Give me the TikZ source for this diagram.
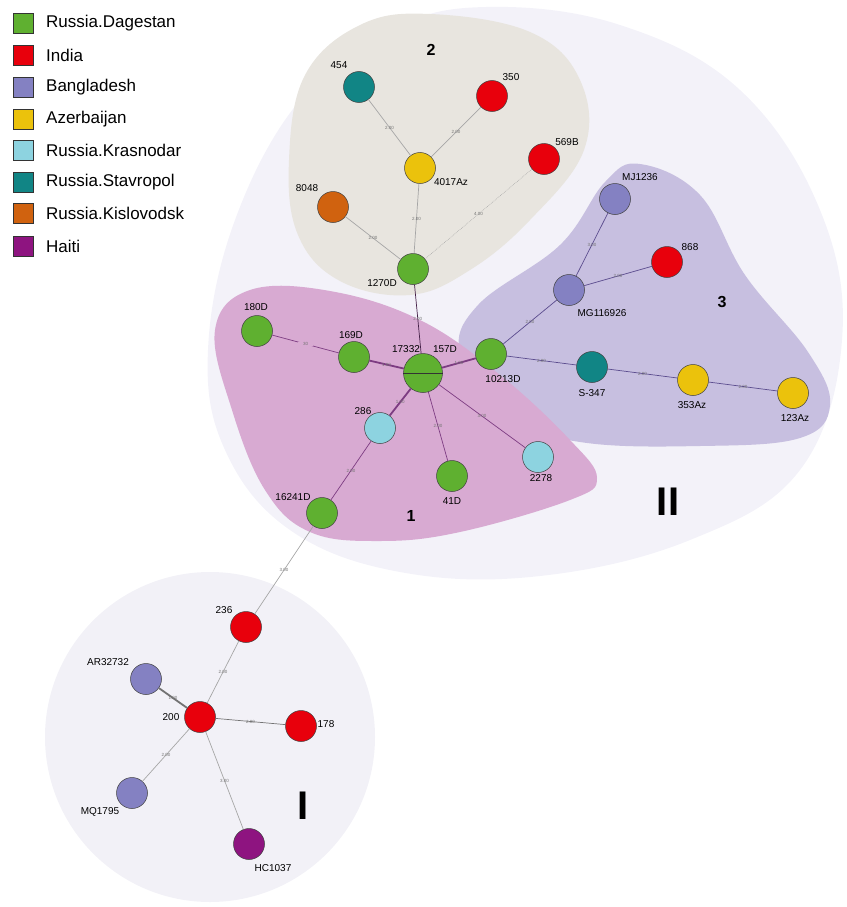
\documentclass[tikz,border=0pt]{standalone}
\usepackage{fontspec}
\setmainfont{Liberation Sans}
\definecolor{dagestan}{HTML}{5FB030}
\definecolor{india}{HTML}{E8000C}
\definecolor{bangladesh}{HTML}{8481C2}
\definecolor{azerbaijan}{HTML}{EBC20C}
\definecolor{krasnodar}{HTML}{8DD3E0}
\definecolor{stavropol}{HTML}{118585}
\definecolor{kislovodsk}{HTML}{D0620F}
\definecolor{haiti}{HTML}{8E1480}
\definecolor{groupI}{HTML}{F2F1F7}
\definecolor{groupII}{HTML}{F3F2F9}
\definecolor{clusterA}{HTML}{D8AAD2}
\definecolor{clusterB}{HTML}{E8E5DF}
\definecolor{clusterC}{HTML}{C7BFE0}
\definecolor{edgeA}{HTML}{7D3C82}
\definecolor{edgeC}{HTML}{5B4C8E}
\tikzset{
	hap/.style={circle, draw=black!75, line width=0.5pt, minimum size=31pt, inner sep=0pt},
	lab/.style={font=\fontsize{10}{10}\selectfont, inner sep=0pt},
	elab/.style={font=\fontsize{4.5}{4.5}\selectfont, text=black!55, inner sep=0.5pt, midway},
	egray/.style={draw=black!35, line width=0.7pt},
	epurple/.style={draw=edgeA, line width=0.7pt},
	eviolet/.style={draw=edgeC, line width=0.7pt},
	ethick/.style={line width=1.8pt},
	regnum/.style={font=\fontsize{16}{16}\selectfont\bfseries},
	grpnum/.style={font=\fontsize{40}{40}\selectfont\bfseries},
	legbox/.style={draw=black!80, line width=0.8pt, minimum size=20pt, inner sep=0pt},
	legtext/.style={anchor=west, inner sep=0pt, font=\fontsize{17}{17}\selectfont}
}
\def\hap[#1](#2)(#3)(#4)#5{\node[hap, fill=#1] (#2) at (#3) {}; \node[lab, shift={(#4)}] (#2t) at (#3) {#5};}
\def\legitem[#1](#2)(#3)#4{\node[legbox, fill=#1] (#2) at (23,#3) {}; \node[legtext] (#2t) at (46,#3) {#4};}

\begin{document}
\begin{tikzpicture}[x=1pt, y=-1pt]
			%%%%% START %%%%%
			\useasboundingbox (0,0) rectangle (846,907);
			
			% groups and clusters
			\fill[groupII] plot[smooth cycle, tension=0.65] coordinates {(486,7) (620,25) (740,90) (820,210) (842,340) (800,470) (690,540) (540,576) (400,572) (290,530) (225,450) (208,350) (235,220) (300,100) (390,30)};
			\fill[groupI] (210,737) circle [radius=165pt];
			\fill[clusterB] plot[smooth cycle, tension=0.65] coordinates {(430,14) (530,32) (580,80) (584,150) (530,220) (470,270) (410,295) (340,281) (298,235) (289,160) (305,75) (360,25)};
			\fill[clusterC] plot[smooth cycle, tension=0.65] coordinates {(640,164) (700,195) (745,275) (808,352) (830,405) (800,438) (700,446) (580,442) (500,415) (460,355) (478,305) (560,245) (605,182)};
			\fill[clusterA] plot[smooth cycle, tension=0.65] coordinates {(250,290) (330,291) (420,320) (500,375) (570,440) (597,478) (570,500) (460,532) (380,541) (310,532) (265,490) (232,410) (215,330)};
			
			\node[regnum] (c2) at (431,50) {2};
			\node[regnum] (c3) at (722,302) {3};
			\node[regnum] (c1) at (411,516) {1};
			\node[grpnum] (gII) at (668,502) {II};
			\node[grpnum] (gI) at (303,806) {I};
			
			% legend
			\legitem[dagestan](k1)(23){Russia.Dagestan}
			\legitem[india](k2)(55){India}
			\legitem[bangladesh](k3)(87){Bangladesh}
			\legitem[azerbaijan](k4)(119){Azerbaijan}
			\legitem[krasnodar](k5)(150){Russia.Krasnodar}
			\legitem[stavropol](k6)(182){Russia.Stavropol}
			\legitem[kislovodsk](k7)(213){Russia.Kislovodsk}
			\legitem[haiti](k8)(246){Haiti}
			
			% cluster 2
			\hap[stavropol](n454)(359,87)(-20,-22){454}
			\hap[india](n350)(492,96)(19,-19){350}
			\hap[india](n569B)(544,159)(23,-17){569B}
			\hap[azerbaijan](n4017Az)(420,168)(31,14){4017Az}
			\hap[kislovodsk](n8048)(333,207)(-26,-19){8048}
			\hap[dagestan](n1270D)(413,269)(-31,14){1270D}
			
			% cluster 1
			\node[hap, fill=dagestan, minimum size=39pt] (n17332) at (423,373) {};
			\draw[black!80, line width=0.6pt] (n17332.west) -- (n17332.east);
			\node[lab] (n17332t) at (406,349) {17332};
			\node[lab] (n157Dt) at (445,349) {157D};
			\hap[dagestan](n180D)(257,331)(-1,-24){180D}
			\hap[dagestan](n169D)(354,357)(-3,-22){169D}
			\hap[krasnodar](n286)(380,428)(-17,-17){286}
			\hap[dagestan](n41D)(452,476)(0,25){41D}
			\hap[krasnodar](n2278)(538,457)(3,21){2278}
			\hap[dagestan](n16241D)(322,513)(-29,-16){16241D}
			\hap[dagestan](n10213D)(491,354)(12,25){10213D}
			
			% cluster 3
			\hap[bangladesh](nMJ1236)(615,199)(25,-22){MJ1236}
			\hap[india](n868)(667,262)(23,-15){868}
			\hap[bangladesh](nMG116926)(569,290)(33,23){MG116926}
			\hap[stavropol](nS347)(592,367)(0,26){S-347}
			\hap[azerbaijan](n353Az)(693,380)(-1,25){353Az}
			\hap[azerbaijan](n123Az)(793,393)(2,25){123Az}
			
			% group I
			\hap[india](n236)(246,627)(-22,-17){236}
			\hap[bangladesh](nAR32732)(146,679)(-38,-17){AR32732}
			\hap[india](n200)(200,717)(-29,0){200}
			\hap[india](n178)(301,726)(25,-2){178}
			\hap[bangladesh](nMQ1795)(132,793)(-32,19){MQ1795}
			\hap[haiti](nHC1037)(249,844)(24,24){HC1037}
			
			% links
			\draw[egray] (n454) -- node[elab] {2.00} (n4017Az);
			\draw[egray] (n350) -- node[elab] {2.00} (n4017Az);
			\draw[egray] (n4017Az) -- node[elab] {2.00} (n1270D);
			\draw[egray] (n8048) -- node[elab] {2.00} (n1270D);
			\draw[egray, densely dotted, line width=0.5pt] (n569B) -- node[elab] {4.00} (n1270D);
			\draw[draw=black!45!edgeA, line width=0.7pt] (n1270D) -- node[elab] {2.00} (n17332);
			
			\draw[epurple] (n180D) -- node[elab, fill=clusterA, inner xsep=5pt] {30} (n169D);
			\draw[epurple, ethick] (n169D) -- node[elab] {1.00} (n17332);
			\draw[epurple, ethick] (n17332) -- node[elab] {1.00} (n10213D);
			\draw[epurple, ethick] (n17332) -- node[elab] {1.00} (n286);
			\draw[epurple] (n17332) -- node[elab] {2.00} (n41D);
			\draw[epurple] (n17332) -- node[elab] {3.00} (n2278);
			\draw[epurple] (n286) -- node[elab] {2.00} (n16241D);
			
			\draw[eviolet] (n10213D) -- node[elab] {2.00} (nMG116926);
			\draw[eviolet] (nMG116926) -- node[elab] {3.00} (nMJ1236);
			\draw[eviolet] (nMG116926) -- node[elab] {2.00} (n868);
			\draw[eviolet] (n10213D) -- node[elab] {2.00} (nS347);
			\draw[eviolet] (nS347) -- node[elab] {2.00} (n353Az);
			\draw[eviolet] (n353Az) -- node[elab] {2.00} (n123Az);
			
			\draw[egray] (n16241D) -- node[elab] {3.00} (n236);
			\draw[egray] (n236) -- node[elab] {2.00} (n200);
			\draw[black!55, ethick] (nAR32732) -- node[elab] {1.00} (n200);
			\draw[black!55, line width=0.7pt] (n200) -- node[elab] {2.00} (n178);
			\draw[egray] (n200) -- node[elab] {2.00} (nMQ1795);
			\draw[egray] (n200) -- node[elab] {3.00} (nHC1037);
			%%%%% END %%%%%
\end{tikzpicture}
\end{document}
